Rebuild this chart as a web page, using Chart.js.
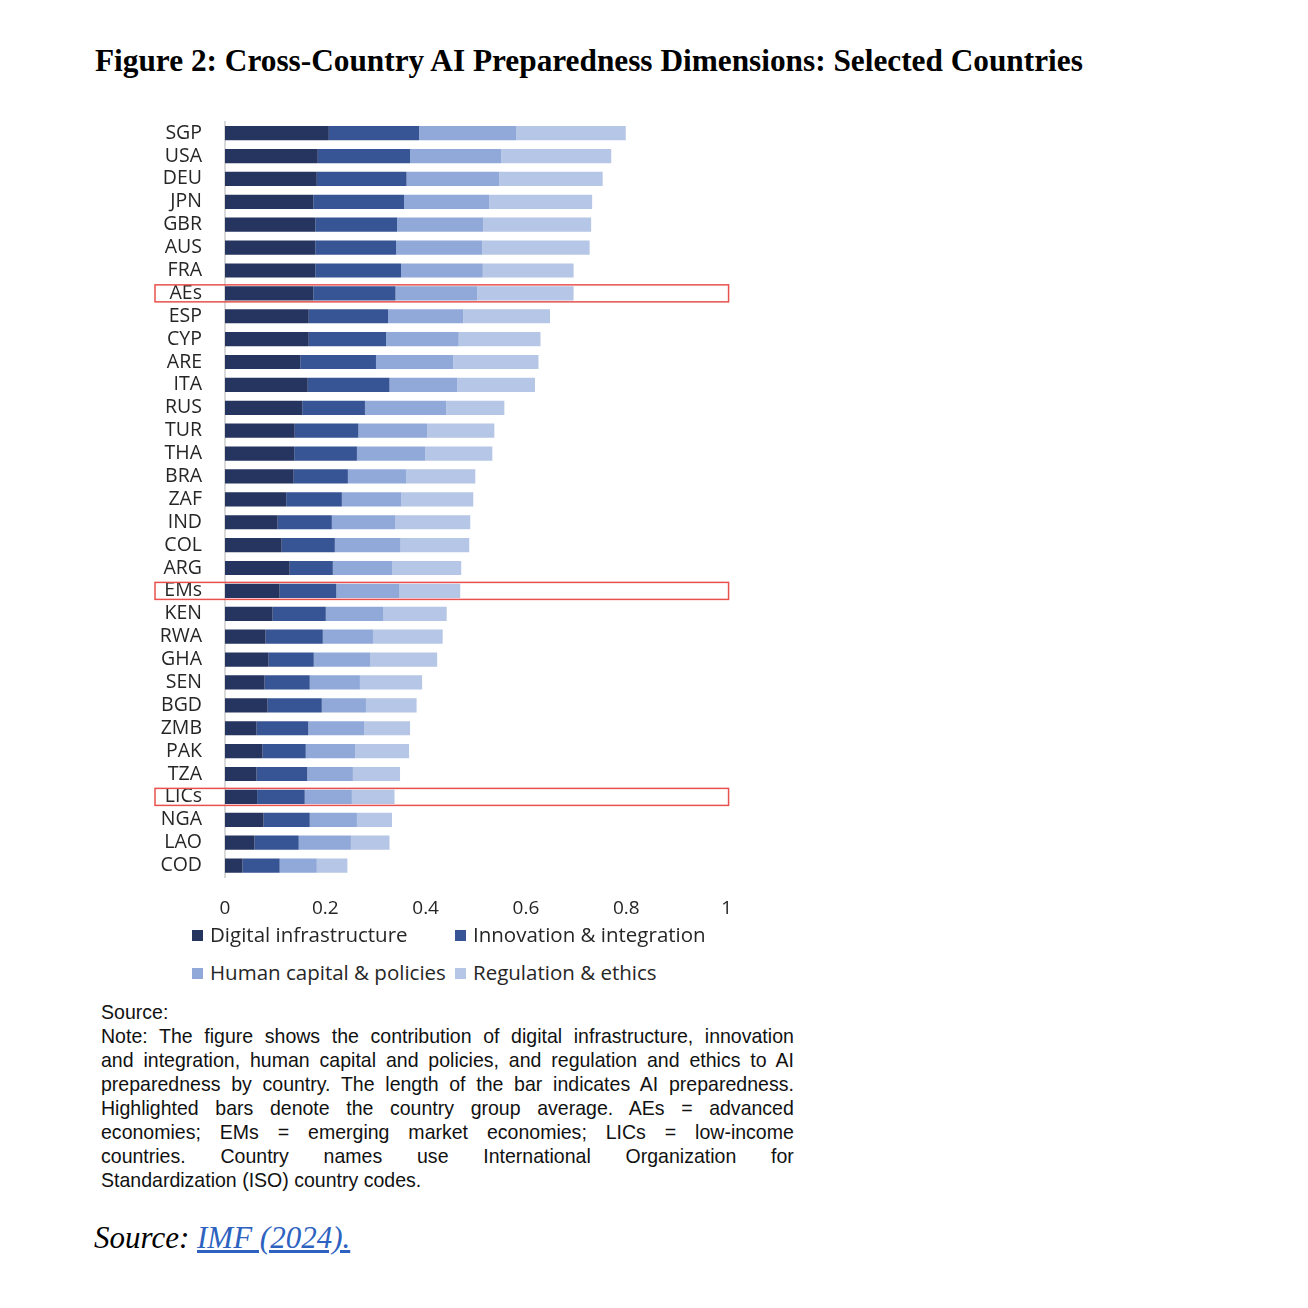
<!DOCTYPE html>
<html>
<head>
<meta charset="utf-8">
<script src="https://cdn.jsdelivr.net/npm/chart.js@4.4.1/dist/chart.umd.min.js"></script>
<style>
  html, body { margin: 0; padding: 0; background: #fff; }
  body { width: 1308px; height: 1308px; position: relative; overflow: hidden; }
  #titulo { position: absolute; left: 95px; top: 46px; font: bold 31.3px/30px "Liberation Serif", serif; color: #000; white-space: nowrap; }
  #caja { position: absolute; left: 140px; top: 86.5px; width: 612px; height: 843.5px; }
  #leyenda { position: absolute; left: 192px; top: 920px; font: 20.5px/28px "Open Sans", sans-serif; color: #262626; }
  .fila { height: 38px; position: relative; }
  .item { position: absolute; top: 0; white-space: nowrap; }
  .item i { display: inline-block; width: 11px; height: 11px; margin-right: 7px; vertical-align: 1px; }
  #nota { position: absolute; left: 101px; top: 1000px; width: 745px; transform: scaleX(0.93); transform-origin: 0 0;
          font: 21px/24px "Liberation Sans", Arial, sans-serif; color: #111; }
  #nota div { text-align: justify; text-align-last: justify; white-space: nowrap; }
  #nota div.izq { text-align: left; text-align-last: left; }
  #fuente { position: absolute; left: 94px; top: 1222px; font: italic 31px/31px "Liberation Serif", serif; color: #000; white-space: nowrap; }
  #fuente a { color: #2e62c0; text-decoration: underline; }
</style>
</head>
<body>
<div id="titulo">Figure 2: Cross-Country AI Preparedness Dimensions: Selected Countries</div>
<div id="caja"><canvas id="chartIA"></canvas></div>
<div id="leyenda"></div>
<div id="nota">
  <div class="izq">Source:</div>
  <div>Note: The figure shows the contribution of digital infrastructure, innovation</div>
  <div>and integration, human capital and policies, and regulation and ethics to AI</div>
  <div>preparedness by country. The length of the bar indicates AI preparedness.</div>
  <div>Highlighted bars denote the country group average. AEs = advanced</div>
  <div>economies; EMs = emerging market economies; LICs = low-income</div>
  <div>countries. Country names use International Organization for</div>
  <div class="izq">Standardization (ISO) country codes.</div>
</div>
<div id="fuente">Source: <a>IMF (2024).</a></div>

<script>
// Paises y promedios de grupo (de arriba hacia abajo)
const paises = ['SGP', 'USA', 'DEU', 'JPN', 'GBR', 'AUS', 'FRA', 'AEs', 'ESP', 'CYP', 'ARE', 'ITA', 'RUS',
  'TUR', 'THA', 'BRA', 'ZAF', 'IND', 'COL', 'ARG', 'EMs', 'KEN', 'RWA', 'GHA', 'SEN', 'BGD', 'ZMB',
  'PAK', 'TZA', 'LICs', 'NGA', 'LAO', 'COD'];

// Contribucion de cada dimension
const infraestructura = [0.207, 0.185, 0.183, 0.176, 0.180, 0.180, 0.180, 0.176, 0.167, 0.167, 0.150, 0.165, 0.154,
  0.139, 0.138, 0.137, 0.122, 0.105, 0.113, 0.129, 0.109, 0.095, 0.081, 0.087, 0.079, 0.085, 0.063,
  0.075, 0.063, 0.064, 0.077, 0.059, 0.035];
const innovacion = [0.180, 0.184, 0.179, 0.181, 0.163, 0.161, 0.171, 0.164, 0.158, 0.154, 0.151, 0.163, 0.125,
  0.127, 0.125, 0.108, 0.111, 0.108, 0.106, 0.086, 0.113, 0.106, 0.114, 0.090, 0.090, 0.108, 0.103,
  0.086, 0.101, 0.095, 0.092, 0.088, 0.074];
const capitalHumano = [0.194, 0.182, 0.185, 0.170, 0.172, 0.172, 0.163, 0.163, 0.150, 0.145, 0.154, 0.135, 0.162,
  0.137, 0.136, 0.116, 0.118, 0.126, 0.131, 0.118, 0.126, 0.114, 0.100, 0.113, 0.100, 0.088, 0.112,
  0.099, 0.091, 0.094, 0.094, 0.104, 0.074];
const regulacion = [0.218, 0.219, 0.206, 0.205, 0.215, 0.214, 0.181, 0.192, 0.173, 0.163, 0.170, 0.155, 0.116,
  0.134, 0.134, 0.138, 0.144, 0.150, 0.137, 0.138, 0.121, 0.127, 0.139, 0.133, 0.124, 0.101, 0.091,
  0.107, 0.094, 0.085, 0.070, 0.077, 0.061];

const nombresSeries = ['Digital infrastructure', 'Innovation & integration', 'Human capital & policies', 'Regulation & ethics'];
const coloresSeries = ['#26355f', '#375594', '#90a9d9', '#b6c6e6'];
const ticksX = [0, 0.2, 0.4, 0.6, 0.8, 1];
const grupos = ['AEs', 'EMs', 'LICs'];

// Recuadros rojos alrededor de los promedios de grupo
const resaltarGrupos = {
  id: 'resaltarGrupos',
  afterDatasetsDraw(chart) {
    const { ctx, chartArea, scales } = chart;
    ctx.save();
    ctx.strokeStyle = '#e8514d';
    ctx.lineWidth = 1.5;
    grupos.forEach(g => {
      const y = scales.y.getPixelForValue(paises.indexOf(g));
      const x0 = chartArea.left - 70;
      const x1 = scales.x.getPixelForValue(1) + 2;
      ctx.strokeRect(x0, y - 8.5, x1 - x0, 17);
    });
    ctx.restore();
  }
};

const series = [infraestructura, innovacion, capitalHumano, regulacion];

const chart = new Chart(document.getElementById('chartIA'), {
  type: 'bar',
  data: {
    labels: paises,
    datasets: series.map((s, i) => ({
      label: nombresSeries[i],
      data: s,
      backgroundColor: coloresSeries[i],
      borderWidth: 0,
      categoryPercentage: 1,
      barPercentage: 0.62
    }))
  },
  options: {
    indexAxis: 'y',
    responsive: true,
    maintainAspectRatio: false,
    animation: false,
    layout: { padding: { top: 10.5, right: 15, bottom: 0, left: 0 } },
    plugins: { legend: { display: false }, tooltip: { enabled: false } },
    scales: {
      x: {
        stacked: true,
        min: 0,
        max: 1,
        afterBuildTicks: s => { s.ticks = ticksX.map(v => ({ value: v })); },
        afterFit: s => { s.height = 53.5; },
        grid: { display: false, drawTicks: false, tickLength: 0 },
        border: { display: false },
        ticks: { font: { family: '"Open Sans", sans-serif', size: 19 }, color: '#262626', padding: 20, maxRotation: 0, callback: v => String(v) }
      },
      y: {
        stacked: true,
        afterFit: s => { s.width = 85; },
        grid: { display: false, drawTicks: false, tickLength: 0 },
        border: { display: true, color: '#d9d9d9', width: 2 },
        ticks: { font: { family: '"Open Sans", sans-serif', size: 19.5 }, color: '#262626', padding: 23, autoSkip: false }
      }
    }
  },
  plugins: [resaltarGrupos]
});

// Leyenda en HTML: dos filas, dos columnas
function renderLeyenda() {
  const cont = document.getElementById('leyenda');
  const filas = [[0, 1], [2, 3]];
  cont.innerHTML = filas.map(f => `
    <div class="fila">
      ${f.map((i, j) => `<span class="item" style="left:${j * 263}px"><i style="background:${coloresSeries[i]}"></i>${nombresSeries[i]}</span>`).join('')}
    </div>`).join('');
}
renderLeyenda();
</script>
</body>
</html>
